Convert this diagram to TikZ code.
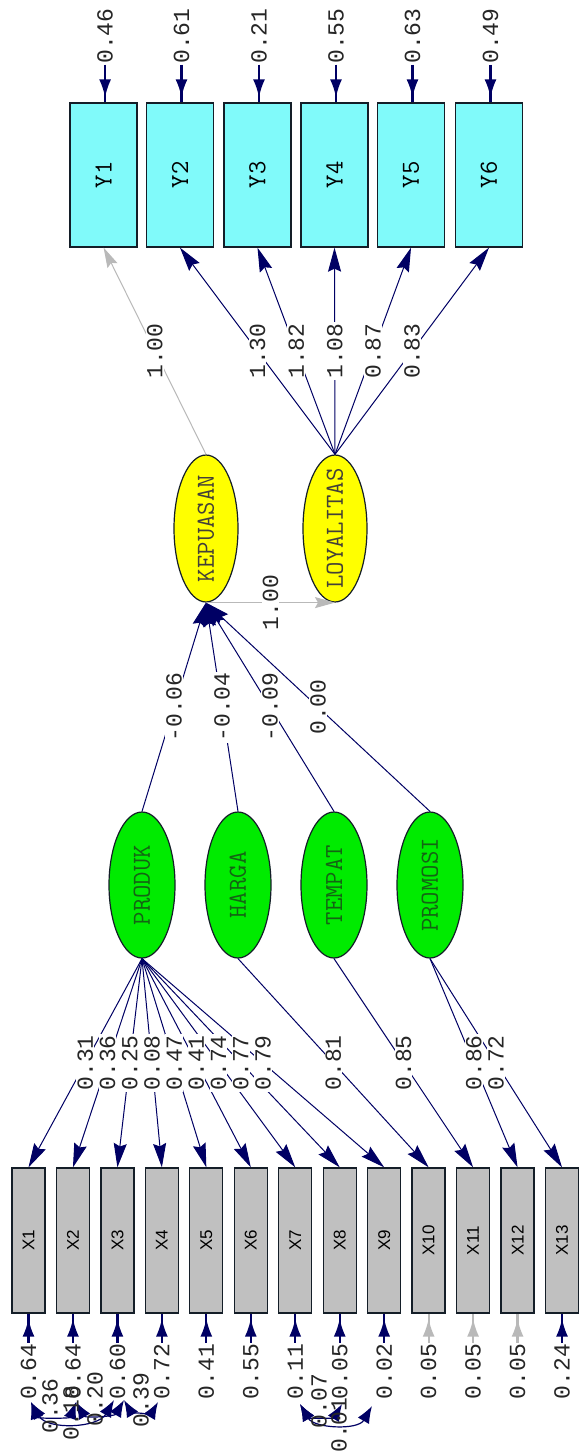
\documentclass[tikz,border=0pt]{standalone}
\usepackage{fontspec}
\usepackage{graphicx}
\usetikzlibrary{shapes.geometric,arrows.meta,calc}
\newfontfamily\lisrelmono{Liberation Mono}
\newfontfamily\lisrelsans{Liberation Sans}
\definecolor{navyd}{RGB}{0,0,100}
\definecolor{ycyan}{RGB}{128,250,250}
\definecolor{xgray}{RGB}{192,192,192}
\definecolor{yel}{RGB}{255,255,0}
\definecolor{grn}{RGB}{0,235,0}
\definecolor{dgreen}{RGB}{20,100,20}
\definecolor{lgray}{RGB}{185,185,185}
\definecolor{edge}{RGB}{20,30,40}
\begin{document}
\begin{tikzpicture}[x=1pt,y=-1pt,
  ybox/.style={draw=edge,line width=1.3pt,fill=ycyan,minimum width=67pt,minimum height=144pt,inner sep=0pt,font=\ttfamily\fontsize{26}{26}\selectfont,text=black},
  xbox/.style={draw=edge,line width=1.3pt,fill=xgray,minimum width=33pt,minimum height=145pt,inner sep=0pt,font=\lisrelsans\fontsize{17}{17}\selectfont,text=black},
  latY/.style={ellipse,draw=edge,line width=1.2pt,fill=yel,minimum width=64pt,minimum height=147pt,inner sep=0pt},
  latG/.style={ellipse,draw=edge,line width=1.2pt,fill=grn,minimum width=66pt,minimum height=146pt,inner sep=0pt},
  bigtxt/.style={font=\ttfamily\fontsize{26}{26}\selectfont,inner sep=0pt},
  num/.style={font=\lisrelmono\fontsize{23}{23}\selectfont,inner sep=1pt,text=black!85},
  lab/.style={num,fill=white},
  conn/.style={draw=navyd,line width=1pt,-{Stealth[length=24pt,width=13pt,inset=3pt]}},
  conng/.style={draw=lgray,line width=1pt,-{Stealth[length=20pt,width=11pt,inset=3pt]}},
  errline/.style={draw=navyd,line width=2.2pt},
  errhead/.style={draw=navyd,fill=navyd,line width=2.2pt,-{Latex[length=18pt,width=12pt,sep=5pt]}},
  errlineg/.style={draw=lgray,line width=2.2pt},
  errheadg/.style={draw=lgray,fill=lgray,line width=2.2pt,-{Latex[length=18pt,width=12pt,sep=5pt]}},
  cov/.style={draw=navyd,line width=1.2pt,{Latex[length=17pt,width=13pt]}-{Latex[length=17pt,width=13pt]}},
]
\useasboundingbox[fill=white] (0,0) rectangle (579,1455);

% ---------- Y indicators ----------
\foreach \i/\x/\v in {1/103.6/0.46,2/180/0.61,3/257.5/0.21,4/334.5/0.55,5/411/0.63,6/489/0.49}{
  \node[ybox] (Y\i) at (\x,175) {\rotatebox{90}{Y\i}};
  \node[num] (ey\i) at (\x+1.5,36) {\rotatebox{90}{\v}};
  \draw[errline] (ey\i.south) -- (ey\i.south |- Y\i.north);
  \draw[errhead] (ey\i.south) -- (ey\i.south |- Y\i.north);
}

% ---------- endogenous latents ----------
\node[latY] (KEP) at (206,528.5) {};
\node[bigtxt,text=black!85!yellow] (KEPt) at (KEP) {\rotatebox{90}{KEPUASAN}};
\node[latY] (LOY) at (335,528.5) {};
\node[bigtxt,text=black!85!yellow] (LOYt) at (LOY) {\rotatebox{90}{LOYALITAS}};

% ---------- exogenous latents ----------
\foreach \n/\x in {PRODUK/142,HARGA/238,TEMPAT/334,PROMOSI/430}{
  \node[latG] (\n) at (\x,885) {};
  \node[bigtxt,text=dgreen] (\n t) at (\n) {\rotatebox{90}{\n}};
}

% ---------- X indicators ----------
\foreach \i in {1,...,13}{
  \pgfmathsetmacro{\xc}{28.5+44.46*(\i-1)}
  \node[xbox] (X\i) at (\xc,1240.5) {\rotatebox{90}{X\i}};
}
\foreach \i/\v in {1/0.64,2/0.64,3/0.60,4/0.72,5/0.41,6/0.55,7/0.11,8/0.05,9/0.02,13/0.24}{
  \node[num] (ex\i) at ($(X\i.south)+(0,58)$) {\rotatebox{90}{\v}};
  \draw[errline] (ex\i.north) -- (X\i.south);
  \draw[errhead] (ex\i.north) -- (X\i.south);
}
\foreach \i/\v in {10/0.05,11/0.05,12/0.05}{
  \node[num] (ex\i) at ($(X\i.south)+(0,58)$) {\rotatebox{90}{\v}};
  \draw[errlineg] (ex\i.north) -- (X\i.south);
  \draw[errheadg] (ex\i.north) -- (X\i.south);
}

% ---------- connectors ----------
\draw[conng] (KEP.north) -- (Y1.south);
\foreach \i in {2,...,6}{ \draw[conn] (LOY.north) -- (Y\i.south); }
\draw[conng] (KEP.south) -- (LOY.south);
\foreach \n in {PRODUK,HARGA,TEMPAT,PROMOSI}{ \draw[conn] (\n.north) -- (KEP.south); }
\foreach \i in {1,...,9}{ \draw[conn] (PRODUK.south) -- (X\i.north); }
\draw[conn] (HARGA.south) -- (X10.north);
\draw[conn] (TEMPAT.south) -- (X11.north);
\draw[conn] (PROMOSI.south) -- (X12.north);
\draw[conn] (PROMOSI.south) -- (X13.north);

% ---------- connector labels ----------
\node[lab] (lY1) at ($(KEP.north)!0.5!(Y1.south)$) {\rotatebox{90}{1.00}};
\foreach \i/\v in {2/1.30,3/1.82,4/1.08,5/0.87,6/0.83}{
  \node[lab] (lY\i) at ($(LOY.north)!0.5!(Y\i.south)$) {\rotatebox{90}{\v}};
}
\node[lab] (lKL) at ($(KEP.south)!0.5!(LOY.south)$) {\rotatebox{90}{1.00}};
\foreach \n/\v in {PRODUK/-0.06,HARGA/-0.04,TEMPAT/-0.09,PROMOSI/0.00}{
  \node[lab] (l\n) at ($(\n.north)!0.5!(KEP.south)$) {\rotatebox{90}{\v}};
}
\foreach \i/\v in {1/0.31,2/0.36,3/0.25,4/0.08,5/0.47,6/0.41,7/0.74,8/0.77,9/0.79}{
  \node[lab] (lX\i) at ($(PRODUK.south)!0.5!(X\i.north)$) {\rotatebox{90}{\v}};
}
\node[lab] (lX10) at ($(HARGA.south)!0.5!(X10.north)$) {\rotatebox{90}{0.81}};
\node[lab] (lX11) at ($(TEMPAT.south)!0.5!(X11.north)$) {\rotatebox{90}{0.85}};
\node[lab] (lX12) at ($(PROMOSI.south)!0.5!(X12.north)$) {\rotatebox{90}{0.86}};
\node[lab] (lX13) at ($(PROMOSI.south)!0.5!(X13.north)$) {\rotatebox{90}{0.72}};

% ---------- error covariances ----------
\coordinate (c1) at (31,1402);
\coordinate (c2) at (76,1402);
\coordinate (c3l) at (114,1400);
\coordinate (c3r) at (124,1400);
\coordinate (c4) at (158,1402);
\coordinate (c7) at (300,1404);
\coordinate (c8) at (342,1404);
\coordinate (c9) at (372,1406);
\draw[cov] (c1) to[out=-70,in=-110] (c2);
\draw[cov] (c1) to[out=-60,in=-120] (c3l);
\draw[cov] (c2) to[out=-60,in=-120] (c3r);
\draw[cov] (c3r) to[out=-60,in=-120] (c4);
\draw[cov] (c7) to[out=-60,in=-120] (c8);
\draw[cov] (c7) to[out=-60,in=-120] (c9);
\node[num] (k12) at (50,1406) {\rotatebox{90}{0.36}};
\node[num] (k13) at (71,1413) {\rotatebox{90}{0.18}};
\node[num] (k23) at (95,1399) {\rotatebox{90}{0.20}};
\node[num] (k34) at (141,1400) {\rotatebox{90}{0.39}};
\node[num] (k78) at (319,1401) {\rotatebox{90}{0.07}};
\node[num] (k79) at (339,1425) {\rotatebox{90}{0.01}};
\end{tikzpicture}
\end{document}
